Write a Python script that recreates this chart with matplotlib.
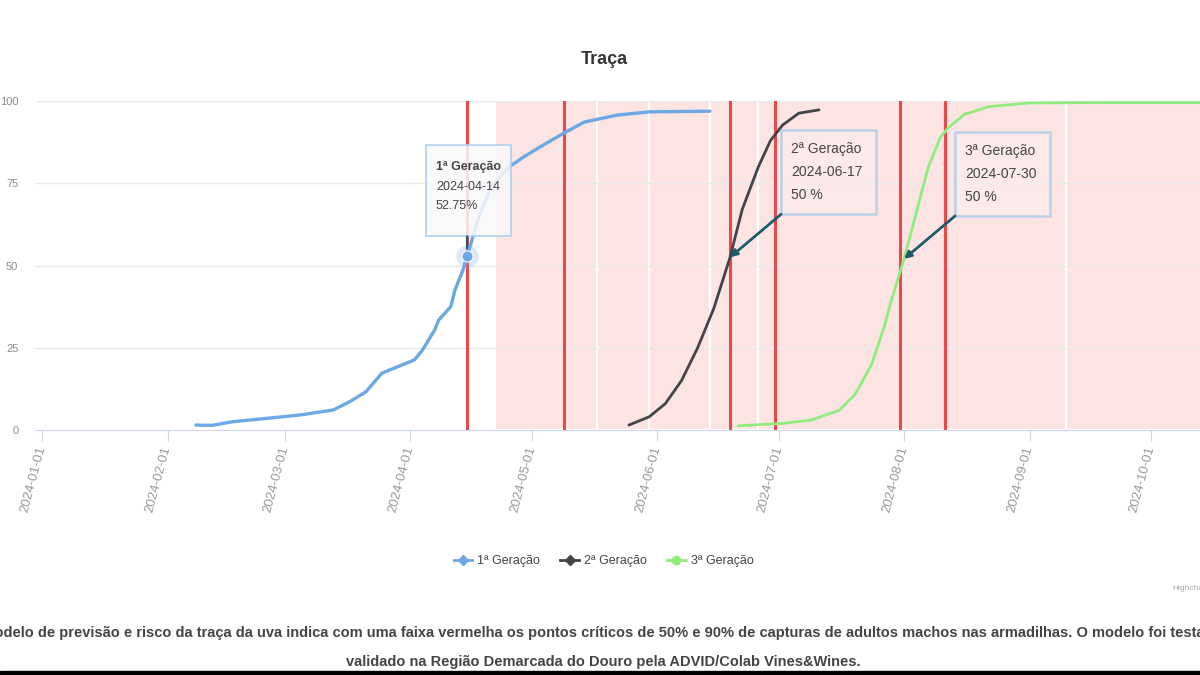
import numpy as np
import pandas as pd
import matplotlib
matplotlib.use('Agg')
import matplotlib.pyplot as plt
import matplotlib.transforms as mtransforms
from matplotlib.lines import Line2D
from matplotlib.patches import Rectangle

plt.rcParams['font.family'] = ['Liberation Sans', 'DejaVu Sans']

# series 1 - 1a geracao
g1_dates = ['2024-02-08', '2024-02-12', '2024-02-17', '2024-02-26', '2024-03-05', '2024-03-13',
            '2024-03-17', '2024-03-21', '2024-03-25', '2024-03-29', '2024-04-02', '2024-04-04',
            '2024-04-07', '2024-04-08', '2024-04-11', '2024-04-12', '2024-04-14', '2024-04-15',
            '2024-04-18', '2024-04-21', '2024-04-25', '2024-04-29', '2024-05-03', '2024-05-09',
            '2024-05-14', '2024-05-22', '2024-05-30', '2024-06-14']
g1_vals = [1.5, 1.4, 2.5, 3.6, 4.6, 6.1, 8.6, 11.6, 17.3, 19.3, 21.3, 24.3,
           30.4, 33.4, 37.5, 42.5, 48.6, 52.75, 65, 74, 79.6, 83, 86, 90.3,
           93.6, 95.7, 96.7, 96.9]

# series 2 - 2a geracao
g2_dates = ['2024-05-25', '2024-05-30', '2024-06-03', '2024-06-07', '2024-06-11', '2024-06-15',
            '2024-06-19', '2024-06-22', '2024-06-26', '2024-06-29', '2024-07-02', '2024-07-06',
            '2024-07-11']
g2_vals = [1.5, 4, 8, 15, 25, 37, 52.5, 67, 80, 88, 92.7, 96.3, 97.3]

# series 3 - 3a geracao
g3_dates = ['2024-06-21', '2024-07-02', '2024-07-09', '2024-07-16', '2024-07-20', '2024-07-24',
            '2024-07-27', '2024-07-29', '2024-08-01', '2024-08-04', '2024-08-07', '2024-08-10',
            '2024-08-12', '2024-08-16', '2024-08-22', '2024-09-01', '2024-09-14', '2024-10-20']
g3_vals = [1.3, 2, 3, 6, 11, 20, 31, 40, 52, 66, 80, 89, 92, 96, 98.3, 99.4, 99.5, 99.5]

# critical points (red lines) and risk bands
red_lines = ['2024-04-15', '2024-05-09', '2024-06-19', '2024-06-30', '2024-07-31', '2024-08-11']
band_start = ['2024-04-22', '2024-05-17', '2024-05-30', '2024-06-14', '2024-06-26', '2024-09-10']
band_end = ['2024-05-17', '2024-05-30', '2024-06-14', '2024-06-26', '2024-09-10', '2024-10-31']

tick_dates = pd.date_range('2024-01-01', '2024-10-01', freq='MS')
y_ticks = [0, 25, 50, 75, 100]

names = ['1ª Geração', '2ª Geração', '3ª Geração']
colors = ['#6ba8e5', '#434348', '#90ed7d']

ann_labels = ['2ª Geração\n2024-06-17\n50 %', '3ª Geração\n2024-07-30\n50 %']
ann_dates = ['2024-06-19', '2024-08-01']
ann_vals = [52.5, 52]

tip_date = '2024-04-15'
tip_val = 52.75
tip_title = '1ª Geração'
tip_label = '2024-04-14\n52.75%'

caption1 = ('O modelo de previsão e risco da traça da uva indica com uma faixa vermelha os pontos '
            'críticos de 50% e 90% de capturas de adultos machos nas armadilhas. O modelo foi testado e')
caption2 = 'validado na Região Demarcada do Douro pela ADVID/Colab Vines&Wines.'

fig = plt.figure(figsize=(12, 6.75), dpi=100)
ax = fig.add_axes([35/1200, 1-430/675, 1-35/1200, 329/675])
td = pd.to_datetime


def box_at(date, val, x0, y0, w, h, fc, ec, lw, alpha):
    # rectangle in pixels, placed relative to the data point
    px, py = ax.transData.transform((matplotlib.dates.date2num(td(date)), val))
    tr = mtransforms.Affine2D().translate(px, py)
    r = Rectangle((x0, y0), w, h, transform=tr, fc=fc, ec=ec, lw=lw, alpha=alpha,
                  zorder=7, clip_on=False)
    ax.add_artist(r)


for s, e in zip(band_start, band_end):
    ax.axvspan(td(s), td(e), facecolor='#fce4e3', edgecolor='white', lw=1.6, zorder=0)

for y in y_ticks[1:]:
    ax.axhline(y, color='#e9e9e9', lw=1, zorder=1)

for d in red_lines:
    ax.axvline(td(d), color='#e64a4d', lw=2.2, zorder=2)

ax.plot(td(g1_dates), g1_vals, color=colors[0], lw=2.4, zorder=4, solid_capstyle='round')
ax.plot(td(g2_dates), g2_vals, color=colors[1], lw=2.0, zorder=4, solid_capstyle='round')
ax.plot(td(g3_dates), g3_vals, color=colors[2], lw=2.0, zorder=4, solid_capstyle='round')

ax.set_xticks(tick_dates)
ax.set_xticklabels([d.strftime('%Y-%m-%d') for d in tick_dates], rotation=75, ha='right',
                   rotation_mode='anchor', va='center', fontsize=9.5, color='#9a9a9a')
ax.set_xlim(td('2023-12-30 06:00'), td('2024-10-13 03:00'))
ax.set_ylim(0, 100)
ax.set_yticks(y_ticks)
ax.set_yticklabels([str(y) for y in y_ticks], fontsize=8, color='#8a8a8a')
ax.tick_params(axis='y', length=0, pad=12)
ax.tick_params(axis='x', length=8, color='#ccd6eb', pad=4)
for sp in ['top', 'right', 'left']:
    ax.spines[sp].set_visible(False)
ax.spines['bottom'].set_color('#ccd6eb')
ax.spines['bottom'].set_zorder(3)
ax.set_facecolor('none')

# hover point + tooltip on first generation
ax.plot(td(tip_date), tip_val, 'o', color=colors[0], ms=16, alpha=0.25, mec='none', zorder=5)
ax.plot(td(tip_date), tip_val, 'o', color=colors[0], ms=8, mec='white', mew=0.8, zorder=6)
box_at(tip_date, tip_val, -41, 20, 85, 91, '#f9f9f9', '#a8cdef', 1.3, 0.85)
ax.annotate('', xy=(td(tip_date), tip_val), xytext=(0, 20), textcoords='offset pixels',
            arrowprops=dict(arrowstyle='-', color='#1e5b6b', lw=1.5, shrinkA=0, shrinkB=6),
            zorder=8)
ax.annotate(tip_title, xy=(td(tip_date), tip_val), xytext=(-31, 89),
            textcoords='offset pixels', ha='left', va='center', fontsize=9,
            fontweight='bold', color='#444444', zorder=9)
ax.annotate(tip_label, xy=(td(tip_date), tip_val), xytext=(-31, 60),
            textcoords='offset pixels', ha='left', va='center', fontsize=9,
            color='#444444', linespacing=1.75, zorder=9)

for lab, d, v in zip(ann_labels, ann_dates, ann_vals):
    box_at(d, v, 51, 43, 95, 84, '#fdeeee', '#8fc3ea', 1.8, 0.6)
    ax.annotate('', xy=(td(d), v), xytext=(51, 43), textcoords='offset pixels',
                arrowprops=dict(arrowstyle='-|>', color='#1e5b6b', lw=2, mutation_scale=10,
                                shrinkA=0, shrinkB=0), zorder=8)
    ax.annotate(lab, xy=(td(d), v), xytext=(61, 85), textcoords='offset pixels',
                ha='left', va='center', fontsize=10, color='#444444',
                linespacing=1.8, zorder=9)

fig.text(0.504, 1-60/675, 'Traça', ha='center', va='center', fontsize=13,
         fontweight='bold', color='#333333')

handles = [Line2D([], [], color=colors[0], lw=2, marker='D', ms=5),
           Line2D([], [], color=colors[1], lw=2, marker='D', ms=5),
           Line2D([], [], color=colors[2], lw=2, marker='o', ms=6)]
fig.legend(handles, names, loc='center', bbox_to_anchor=(0.503, 1-561/675), ncol=3,
           frameon=False, fontsize=9, handlelength=1.5, handletextpad=0.4,
           columnspacing=1.6, labelcolor='#444444')

fig.text(1172/1200, 1-588/675, 'Highcharts.com', fontsize=6, color='#aaaaaa', va='center')

fig.text(0.5, 1-633/675, caption1, ha='center', va='center', fontsize=10.5,
         fontweight='bold', color='#444444')
fig.text(0.503, 1-662/675, caption2, ha='center', va='center', fontsize=10.5,
         fontweight='bold', color='#444444')

fig.patches.append(Rectangle((0, 0), 1, 4/675, transform=fig.transFigure,
                             color='black', zorder=10))

fig.savefig('out.png', dpi=100)
